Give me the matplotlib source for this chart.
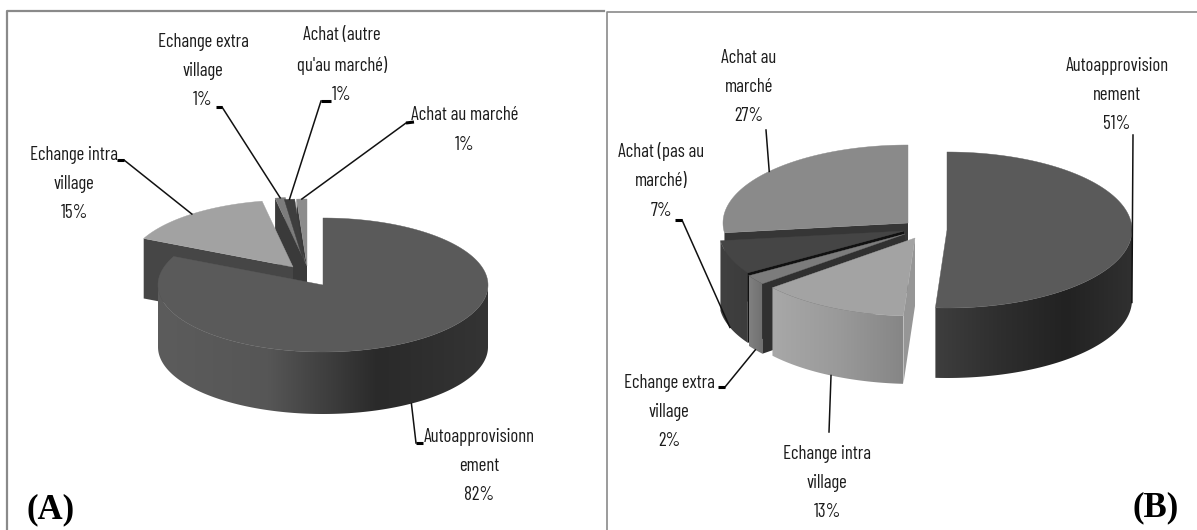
import numpy as np
import matplotlib
matplotlib.use("Agg")
import matplotlib.pyplot as plt
from matplotlib.colors import LinearSegmentedColormap
from matplotlib.patches import Polygon

# Valeurs (%)
labels_a = ["Autoapprovisionn\nement", "Echange intra\nvillage", "Echange extra\nvillage",
            "Achat (autre\nqu'au marché)", "Achat au marché"]
values_a = [82, 15, 1, 1, 1]
labels_b = ["Autoapprovision\nnement", "Echange intra\nvillage", "Echange extra\nvillage",
            "Achat (pas au\nmarché)", "Achat au\nmarché"]
values_b = [51, 13, 2, 7, 27]

# Centre de chaque part éclatée (pixels de la figure)
centers_a = [(323, 285), (293, 267), (306, 264), (305, 266), (307, 266)]
centers_b = [(947, 230), (915, 238), (905, 234), (904, 231), (908, 223)]
radius_a = (165, 67)
radius_b = (185, 78)
depth_a = [62, 60, 60, 60, 60]
depth_b = [70, 68, 70, 70, 70]

top_a = ["#5a5a5a", "#a2a2a2", "#7c7c7c", "#3e3e3e", "#8c8c8c"]
wall_a = ["#3a3a3a", "#464646", "#3a3a3a", "#3a3a3a", "#3a3a3a"]
top_b = ["#5a5a5a", "#a3a3a3", "#7c7c7c", "#454545", "#8a8a8a"]
wall_b = ["#2e2e2e", "#969696", "#303030", "#111111", "#363636"]

# Position du texte et coude du trait de rappel
text_a = [(479, 466), (74, 184), (203, 71), (342, 65), (465, 130)]
elbow_a = [(416, 443), (124, 160), (222, 107), (321, 101), (406, 123)]
stub_a = [(423, 443), (117, 160), (216, 107), (331, 101), (414, 122)]
text_b = [(1117, 95), (827, 483), (669, 412), (661, 181), (749, 87)]
elbow_b = [(1133, 135), (829, 432), (725, 387), (682, 220), (766, 130)]
stub_b = [(1133, 135), (829, 432), (718, 387), (675, 220), (766, 130)]

front_grey = ["#5c5c5c", "#565656", "#2a2a2a", "#343434"]
front_light = ["#a8a8a8", "#9a9a9a", "#868686"]
front_dark = ["#3e3e3e", "#2e2e2e", "#222222", "#303030"]
font_labels = ["Barlow Condensed", "PT Sans Narrow", "Lato"]


def rim(cx, cy, rad, ang):
    a = np.radians(ang)
    return cx + rad[0] * np.sin(a), cy - rad[1] * np.cos(a)


def angles(values):
    edges = np.cumsum([0] + list(values)) * 3.6
    return edges[:-1], edges[1:]


def draw_face(ax, c, rad, d, ang, color, z):
    x, y = rim(c[0], c[1], rad, ang)
    ax.add_patch(Polygon([(x, y), c, (c[0], c[1] + d), (x, y + d)], fc=color, ec="none", zorder=z))


def draw_side(ax, c, rad, d, a0, a1, colors, z):
    # paroi extérieure : seulement la partie tournée vers nous
    lo, hi = max(a0, 90), min(a1, 270)
    if hi <= lo:
        return
    t = np.linspace(lo, hi, 200)
    x, y = rim(c[0], c[1], rad, t)
    pts = list(zip(x, y)) + list(zip(x[::-1], y[::-1] + d))
    clip = Polygon(pts, fc="none", ec="none", transform=ax.transData)
    ax.add_patch(clip)
    cmap = LinearSegmentedColormap.from_list("side", colors)
    grad = np.linspace(0, 1, 256).reshape(1, -1)
    im = ax.imshow(grad, cmap=cmap, aspect="auto", zorder=z,
                   extent=(x.min(), x.max(), y.max() + d, y.min()))
    im.set_clip_path(clip)


def draw_top(ax, c, rad, a0, a1, color, z):
    t = np.linspace(a0, a1, 200)
    x, y = rim(c[0], c[1], rad, t)
    pts = [c] + list(zip(x, y))
    ax.add_patch(Polygon(pts, fc=color, ec=color, lw=0.3, zorder=z))


def leader(ax, c, rad, d, mid, elbow, stub, z=20):
    x, y = rim(c[0], c[1], rad, mid)
    if 90 < mid < 270:
        y = y + d
    ax.plot([x, elbow[0]], [y, elbow[1]], color="#111111", lw=1.1, zorder=z)
    ax.plot([elbow[0], stub[0]], [elbow[1], stub[1]], color="#000000", lw=2.2, zorder=z, solid_capstyle="butt")


def put_labels(ax, labels, values, pos):
    for lab, v, p in zip(labels, values, pos):
        ax.text(p[0], p[1], lab + "\n%d%%" % v, ha="center", va="center", fontsize=13.5,
                family=font_labels, color="#1c1c1c", linespacing=1.8, zorder=30)


fig = plt.figure(figsize=(11.97, 5.30), dpi=100)
ax = fig.add_axes([0, 0, 1, 1])

# Cadres
ax.plot([7, 7, 604], [530, 10.5, 10.5], color="#8a8a8a", lw=1.6)
ax.plot([607, 607, 1197], [530, 11.5, 11.5], color="#8a8a8a", lw=1.2)

# Camembert A
start, stop = angles(values_a)
for i in [2, 3, 4]:
    draw_face(ax, centers_a[i], radius_a, depth_a[i], start[i], wall_a[i], 2 + 0.1 * i)
for i in [2, 3, 4]:
    draw_top(ax, centers_a[i], radius_a, start[i], stop[i], top_a[i], 3 + 0.1 * i)
draw_face(ax, centers_a[1], radius_a, depth_a[1], start[1], wall_a[1], 4)
draw_top(ax, centers_a[1], radius_a, start[1], stop[1], top_a[1], 5)
draw_side(ax, centers_a[0], radius_a, depth_a[0], start[0], stop[0], front_grey, 6)
draw_top(ax, centers_a[0], radius_a, start[0], stop[0], top_a[0], 7)
for i in range(5):
    leader(ax, centers_a[i], radius_a, depth_a[i], (start[i] + stop[i]) / 2, elbow_a[i], stub_a[i])
put_labels(ax, labels_a, values_a, text_a)

# Camembert B
start, stop = angles(values_b)
draw_face(ax, centers_b[4], radius_b, depth_b[4], start[4], wall_b[4], 2)
draw_top(ax, centers_b[4], radius_b, start[4], stop[4], top_b[4], 3)
draw_side(ax, centers_b[3], radius_b, depth_b[3], start[3], stop[3], ["#404040", "#3c3c3c"], 4)
draw_face(ax, centers_b[3], radius_b, depth_b[3], start[3], wall_b[3], 4.5)
draw_top(ax, centers_b[3], radius_b, start[3], stop[3], top_b[3], 5)
draw_side(ax, centers_b[2], radius_b, depth_b[2], start[2], stop[2], ["#808080", "#707070"], 6)
draw_face(ax, centers_b[2], radius_b, depth_b[2], start[2], wall_b[2], 6.5)
draw_top(ax, centers_b[2], radius_b, start[2], stop[2], top_b[2], 7)
draw_side(ax, centers_b[1], radius_b, depth_b[1], start[1], stop[1], front_light, 8)
draw_face(ax, centers_b[1], radius_b, depth_b[1], start[1], wall_b[1], 8.5)
draw_top(ax, centers_b[1], radius_b, start[1], stop[1], top_b[1], 9)
draw_side(ax, centers_b[0], radius_b, depth_b[0], start[0], stop[0], front_dark, 10)
draw_top(ax, centers_b[0], radius_b, start[0], stop[0], top_b[0], 11)
for i in range(5):
    leader(ax, centers_b[i], radius_b, depth_b[i], (start[i] + stop[i]) / 2, elbow_b[i], stub_b[i])
put_labels(ax, labels_b, values_b, text_b)

ax.text(51, 510, "(A)", family="Liberation Serif", fontweight="bold", fontsize=25, ha="center", va="center")
ax.text(1156, 508, "(B)", family="Liberation Serif", fontweight="bold", fontsize=25, ha="center", va="center")

ax.set_xlim(0, 1197)
ax.set_ylim(530, 0)
ax.axis("off")
fig.savefig("out.png", dpi=100)
